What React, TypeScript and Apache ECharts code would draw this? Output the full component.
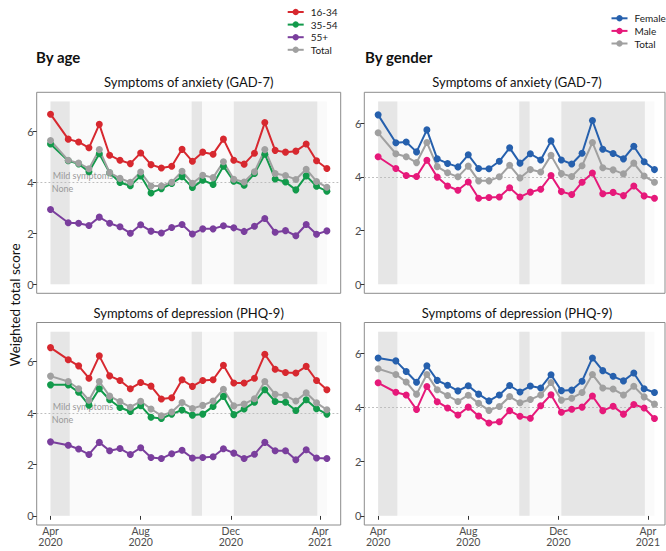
import React, { useEffect, useRef } from "react";
import * as echarts from "echarts";

// ---------- data ----------
const waveDates = [
  "2020-04-01", "2020-04-25", "2020-05-09", "2020-05-23", "2020-06-06", "2020-06-20",
  "2020-07-04", "2020-07-18", "2020-08-01", "2020-08-15", "2020-08-29", "2020-09-12",
  "2020-09-26", "2020-10-10", "2020-10-24", "2020-11-07", "2020-11-21", "2020-12-05",
  "2020-12-19", "2021-01-02", "2021-01-16", "2021-01-30", "2021-02-13", "2021-02-27",
  "2021-03-13", "2021-03-27", "2021-04-10",
];

const lockdownPeriods = [
  ["2020-04-01", "2020-04-27"],
  ["2020-10-09", "2020-10-23"],
  ["2020-12-05", "2021-03-28"],
];

const xTickDates = ["2020-04-01", "2020-08-01", "2020-12-01", "2021-04-01"];
const yTickValues = [0, 2, 4, 6];
const mildThreshold = 4;

const ageGroups = ["16-34", "35-54", "55+"];
const genderGroups = ["Female", "Male"];
const totalName = "Total";

// Symptoms of anxiety (GAD-7)
const anxiety1634 = [6.67, 5.69, 5.58, 5.35, 6.27, 5.06, 4.86, 4.73, 5.15, 4.69, 4.56, 4.63, 5.29, 4.82, 5.18, 5.10, 5.69, 4.86, 4.71, 5.14, 6.34, 5.25, 5.18, 5.22, 5.50, 4.84, 4.54];
const anxiety3554 = [5.50, 4.84, 4.72, 4.41, 5.12, 4.37, 3.99, 3.86, 4.25, 3.58, 3.75, 3.95, 4.22, 3.79, 4.08, 3.91, 4.63, 4.04, 3.88, 4.34, 5.10, 4.13, 4.01, 3.70, 4.25, 3.84, 3.65];
const anxiety55plus = [2.93, 2.41, 2.39, 2.30, 2.63, 2.39, 2.25, 2.00, 2.33, 2.08, 2.01, 2.22, 2.34, 1.97, 2.17, 2.17, 2.29, 2.21, 2.07, 2.27, 2.58, 2.04, 2.10, 1.90, 2.34, 1.96, 2.09];
const anxietyFemale = [6.31, 5.27, 5.30, 4.93, 5.75, 4.67, 4.50, 4.37, 4.82, 4.31, 4.30, 4.58, 5.08, 4.51, 4.86, 4.63, 5.34, 4.63, 4.48, 4.88, 6.10, 5.03, 4.87, 4.67, 5.14, 4.56, 4.27];
const anxietyMale = [4.75, 4.31, 4.05, 4.01, 4.62, 3.99, 3.66, 3.50, 3.81, 3.20, 3.23, 3.25, 3.59, 3.25, 3.43, 3.54, 4.05, 3.45, 3.34, 3.80, 4.14, 3.37, 3.42, 3.30, 3.66, 3.29, 3.20];
const anxietyTotal = [5.64, 4.86, 4.75, 4.53, 5.28, 4.38, 4.15, 4.00, 4.40, 3.85, 3.85, 4.00, 4.43, 3.96, 4.27, 4.18, 4.80, 4.12, 4.01, 4.41, 5.28, 4.34, 4.26, 4.11, 4.51, 4.03, 3.80];

// Symptoms of depression (PHQ-9)
const depression1634 = [6.55, 6.08, 5.84, 5.36, 6.23, 5.45, 5.27, 4.95, 5.19, 5.05, 4.55, 4.60, 5.30, 5.04, 5.27, 5.30, 5.86, 5.17, 5.17, 5.36, 6.29, 5.71, 5.58, 5.56, 5.82, 5.27, 4.91];
const depression3554 = [5.10, 5.10, 4.81, 4.31, 4.95, 4.52, 4.22, 4.06, 4.29, 3.84, 3.79, 3.96, 4.12, 3.92, 3.96, 4.26, 4.65, 3.94, 4.16, 4.42, 4.91, 4.45, 4.42, 4.10, 4.52, 4.17, 3.96];
const depression55plus = [2.88, 2.75, 2.60, 2.39, 2.86, 2.53, 2.62, 2.39, 2.65, 2.27, 2.23, 2.42, 2.55, 2.25, 2.27, 2.30, 2.61, 2.44, 2.23, 2.40, 2.86, 2.53, 2.53, 2.18, 2.57, 2.25, 2.23];
const depressionFemale = [5.84, 5.73, 5.34, 4.94, 5.55, 5.01, 4.83, 4.62, 4.81, 4.50, 4.25, 4.47, 4.82, 4.58, 4.80, 4.73, 5.22, 4.63, 4.65, 4.98, 5.84, 5.37, 5.16, 4.99, 5.28, 4.70, 4.56];
const depressionMale = [4.92, 4.57, 4.47, 3.93, 4.78, 4.22, 3.99, 3.73, 4.02, 3.69, 3.43, 3.48, 3.89, 3.68, 3.61, 4.07, 4.48, 3.83, 3.94, 4.02, 4.43, 3.89, 4.05, 3.76, 4.12, 3.99, 3.60];
const depressionTotal = [5.44, 5.23, 4.95, 4.50, 5.23, 4.66, 4.45, 4.23, 4.46, 4.16, 3.90, 4.04, 4.41, 4.18, 4.30, 4.47, 4.93, 4.28, 4.35, 4.56, 5.23, 4.73, 4.69, 4.47, 4.79, 4.40, 4.13];

// ---------- styling ----------
const FONT = "Lato, 'Noto Sans', sans-serif";
const COLORS: Record<string, string> = {
  "16-34": "#D7282F",
  "35-54": "#129A4B",
  "55+": "#7A3E9D",
  Female: "#2660AD",
  Male: "#E6197A",
  Total: "#A0A0A0",
};
const MONTHS = ["Jan", "Feb", "Mar", "Apr", "May", "Jun", "Jul", "Aug", "Sep", "Oct", "Nov", "Dec"];

const LEFT_X = 36.7, LEFT_W = 304;
const RIGHT_X = 364.3, RIGHT_W = 300.7;
const TOP_Y = 92.3, TOP_H = 201;
const BOT_Y = 322.5, BOT_H = 202.5;

function buildOption() {
  const dates = waveDates.map((d) => Date.parse(d));
  const first = dates[0];
  const last = dates[dates.length - 1];
  const span = last - first;
  const xMin = first - 0.05 * span;
  const xMaxLeft = last + 0.05 * span;
  const xMaxRight = xMin + ((xMaxLeft - xMin) * RIGHT_W) / LEFT_W;
  const xTicks = xTickDates.map((d) => Date.parse(d));

  const leftVals = [anxiety1634, anxiety3554, anxiety55plus, anxietyTotal, depression1634, depression3554, depression55plus, depressionTotal].flat();
  const rightVals = [anxietyFemale, anxietyMale, anxietyTotal, depressionFemale, depressionMale, depressionTotal].flat();
  const topLeft = Math.max(...leftVals) + 0.5;
  const topRight = Math.max(...rightVals) + 0.5;

  const panels = [
    { x: LEFT_X, y: TOP_Y, w: LEFT_W, h: TOP_H, xMax: xMaxLeft, top: topLeft, bottom: false, labels: true,
      series: [["16-34", anxiety1634], ["35-54", anxiety3554], ["55+", anxiety55plus], [totalName, anxietyTotal]] },
    { x: LEFT_X, y: BOT_Y, w: LEFT_W, h: BOT_H, xMax: xMaxLeft, top: topLeft, bottom: true, labels: true,
      series: [["16-34", depression1634], ["35-54", depression3554], ["55+", depression55plus], [totalName, depressionTotal]] },
    { x: RIGHT_X, y: TOP_Y, w: RIGHT_W, h: TOP_H, xMax: xMaxRight, top: topRight, bottom: false, labels: false,
      series: [["Female", anxietyFemale], ["Male", anxietyMale], [totalName, anxietyTotal]] },
    { x: RIGHT_X, y: BOT_Y, w: RIGHT_W, h: BOT_H, xMax: xMaxRight, top: topRight, bottom: true, labels: false,
      series: [["Female", depressionFemale], ["Male", depressionMale], [totalName, depressionTotal]] },
  ];

  const grid: any[] = [];
  const xAxis: any[] = [];
  const yAxis: any[] = [];
  const series: any[] = [];

  panels.forEach((p, i) => {
    grid.push({
      left: p.x, top: p.y, width: p.w, height: p.h,
      show: true, borderColor: "#8C8C8C", borderWidth: 1, backgroundColor: "#ffffff",
      containLabel: false, outerBoundsMode: "none",
    });
    xAxis.push({
      gridIndex: i, type: "value", min: xMin, max: p.xMax,
      axisLine: { show: false }, splitLine: { show: false },
      axisTick: { show: p.bottom, customValues: xTicks, length: 4, lineStyle: { color: "#333333", width: 1 } },
      axisLabel: {
        show: p.bottom, customValues: xTicks, margin: 0, fontSize: 10.5, lineHeight: 11,
        color: "#4D4D4D", fontFamily: FONT, hideOverlap: false,
        formatter: (v: number) => {
          const d = new Date(v);
          return MONTHS[d.getUTCMonth()] + "\n" + d.getUTCFullYear();
        },
      },
    });
    yAxis.push({
      gridIndex: i, type: "value", min: -0.05 * p.top, max: 1.05 * p.top,
      axisLine: { show: false }, splitLine: { show: false },
      axisTick: { show: true, customValues: yTickValues, length: 4, lineStyle: { color: "#333333", width: 1 } },
      axisLabel: { customValues: yTickValues, margin: 3, fontSize: 11, color: "#4D4D4D", fontFamily: FONT },
    });

    p.series.forEach(([name, vals]: any, k: number) => {
      const s: any = {
        type: "line", name, xAxisIndex: i, yAxisIndex: i,
        data: dates.map((d, j) => [d, vals[j]]),
        symbol: "circle", symbolSize: 7, showSymbol: true,
        lineStyle: { width: 2, color: COLORS[name] },
        itemStyle: { color: COLORS[name] },
        emphasis: { disabled: true }, silent: true, z: 3,
      };
      if (k === 0) {
        s.markArea = {
          silent: true, z: 1,
          data: [
            [{ xAxis: first, yAxis: 0, itemStyle: { color: "#FAFAFA" } }, { xAxis: last, yAxis: p.top }],
            ...lockdownPeriods.map((lp) => [
              { xAxis: Date.parse(lp[0]), yAxis: 0, itemStyle: { color: "#E6E6E6" } },
              { xAxis: Date.parse(lp[1]), yAxis: p.top },
            ]),
          ],
        };
        const lab = { color: "#9A9A9A", fontSize: 9, fontFamily: FONT, overflow: "none" };
        s.markLine = {
          silent: true, z: 2, symbol: ["none", "none"],
          lineStyle: { type: [1.5, 2.5], color: "#BDBDBD", width: 1 },
          label: { show: false },
          data: [
            { yAxis: mildThreshold, label: { show: p.labels, formatter: "Mild symptoms", position: "insideStartTop", distance: [16, 2], ...lab } },
            { yAxis: mildThreshold, label: { show: p.labels, formatter: "None", position: "insideStartBottom", distance: [15, 2], ...lab } },
          ],
        };
      }
      series.push(s);
    });
  });

  const legendCommon = {
    orient: "vertical", itemWidth: 16, itemHeight: 8, itemGap: 0, padding: 0,
    selectedMode: false,
    textStyle: { fontSize: 10, lineHeight: 12.6, color: "#1A1A1A", fontFamily: FONT, padding: [0, 0, 0, 2], overflow: "none" },
  };

  const textEl = (text: string, x: number, y: number, size: number, weight: any, align: string, extra: any = {}) => ({
    type: "text", x, y, silent: true, ...extra,
    style: { text, fontSize: size, fontWeight: weight, fontFamily: FONT, fill: "#111111", align, verticalAlign: "middle" },
  });

  return {
    animation: false,
    grid, xAxis, yAxis, series,
    legend: [
      { ...legendCommon, left: 286.7, top: 5.7, data: [...ageGroups, totalName] },
      { ...legendCommon, left: 610.5, top: 12, data: [...genderGroups, totalName] },
    ],
    graphic: [
      textEl("By age", 36, 57, 15, "bold", "left"),
      textEl("By gender", 365, 57, 15, "bold", "left"),
      textEl("Symptoms of anxiety (GAD-7)", 188.7, 81.7, 13, "normal", "center"),
      textEl("Symptoms of depression (PHQ-9)", 188.7, 313.3, 13, "normal", "center"),
      textEl("Symptoms of anxiety (GAD-7)", 517, 81.7, 13, "normal", "center"),
      textEl("Symptoms of depression (PHQ-9)", 517, 313.3, 13, "normal", "center"),
      textEl("Weighted total score", 15, 305, 13.5, "normal", "center", { rotation: Math.PI / 2 }),
    ],
  };
}

export default function App() {
  const ref = useRef<HTMLDivElement>(null);
  useEffect(() => {
    if (!ref.current) return;
    const chart = echarts.init(ref.current, undefined, { renderer: "svg" });
    chart.setOption(buildOption() as any);
    return () => chart.dispose();
  }, []);
  return (
    <div
      ref={ref}
      style={{ position: "absolute", left: 0, top: 0, width: 666, height: 551, background: "#ffffff" }}
    />
  );
}
